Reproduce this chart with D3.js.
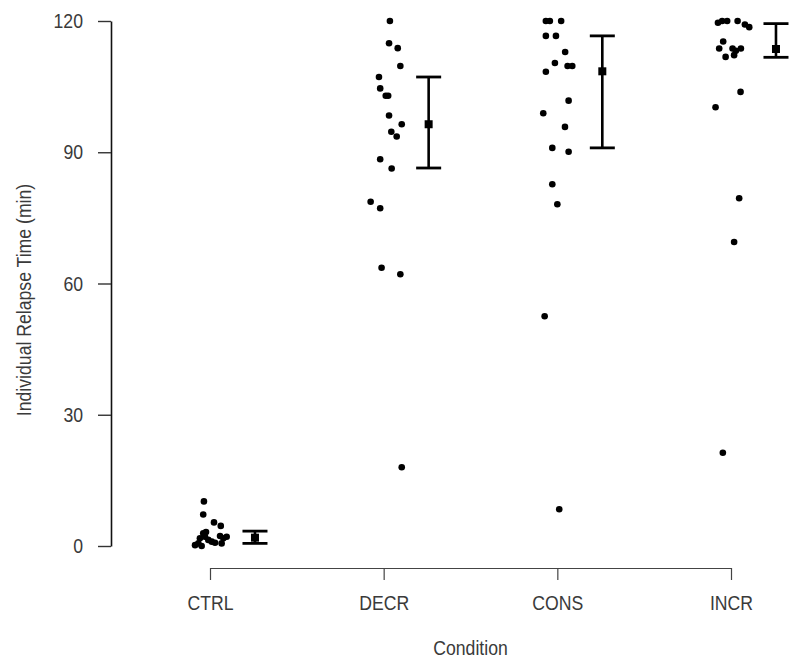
<!DOCTYPE html>
<html>
<head>
<meta charset="utf-8">
<script src="https://cdn.jsdelivr.net/npm/d3@7"></script>
<style>
  html, body { margin: 0; padding: 0; background: #fff; }
  svg { display: block; }
  text { font-family: "Liberation Sans", Arial, sans-serif; fill: #3a3a3a; }
</style>
</head>
<body>
<svg id="chart" width="800" height="665"></svg>
<script>
// ---- data ----
const categories = ["CTRL", "DECR", "CONS", "INCR"];
const yTicks = [0, 30, 60, 90, 120];

const ctrlValues = [10.2, 7.2, 5.4, 4.6, 3.2, 2.9, 2.1, 1.75, 1.4, 0.6, 0.2, 1.0, 0.75, 2.3, 1.75, 2.1, 0.6, 0.0];
const ctrlJitter = [-0.035, -0.039, 0.023, 0.062, -0.023, -0.039, -0.029, -0.058, -0.010, -0.067, -0.086, 0.010, 0.029, 0.058, 0.077, 0.096, 0.067, -0.048];

const decrValues = [120, 114.9, 113.8, 109.7, 107.2, 104.6, 102.9, 102.9, 98.4, 96.4, 94.7, 93.6, 88.4, 86.3, 78.7, 77.2, 63.6, 62.1, 18.0];
const decrJitter = [0.036, 0.031, 0.081, 0.096, -0.027, -0.020, 0.012, 0.026, 0.031, 0.104, 0.044, 0.075, -0.020, 0.046, -0.075, -0.020, -0.012, 0.096, 0.104];

const consValues = [120, 120, 120, 116.6, 116.6, 112.9, 110.4, 109.7, 109.7, 108.4, 101.8, 98.9, 95.8, 91.0, 90.1, 82.7, 78.1, 52.5, 8.4];
const consJitter = [-0.066, -0.043, 0.022, -0.066, -0.008, 0.045, -0.014, 0.059, 0.086, -0.066, 0.065, -0.081, 0.044, -0.029, 0.065, -0.029, 0.0, -0.073, 0.011];

const incrValues = [119.6, 120, 120, 120, 119.2, 118.6, 115.3, 113.7, 111.8, 113.7, 113.2, 113.7, 112.2, 103.8, 100.3, 79.5, 69.5, 21.3];
const incrJitter = [-0.075, -0.051, -0.022, 0.038, 0.080, 0.105, -0.045, -0.068, -0.031, 0.009, 0.028, 0.057, 0.018, 0.055, -0.089, 0.047, 0.018, -0.047];

const means = [1.9, 96.4, 108.5, 113.6];
const upper = [3.4, 107.2, 116.6, 119.4];
const lower = [0.6, 86.4, 91.0, 111.7];

const groupValues = [ctrlValues, decrValues, consValues, incrValues];
const groupJitter = [ctrlJitter, decrJitter, consJitter, incrJitter];

// ---- layout ----
const FS = "21px";
const NARROW = 0.84;   // the original uses a condensed face
const svg = d3.select("#chart");
const x = d3.scaleLinear().domain([0, 3]).range([210, 731]);
const y = d3.scaleLinear().domain([0, 120]).range([546, 21]);
const errOffset = 0.259;   // error bar placed to the right of each strip
const capHalf = 0.072;

function condense(sel) {
  sel.each(function () {
    const w = this.getComputedTextLength();
    d3.select(this).attr("textLength", w * NARROW).attr("lengthAdjust", "spacingAndGlyphs");
  });
}

// y axis
const yAxis = svg.append("g")
  .attr("transform", "translate(111,0)")
  .call(d3.axisLeft(y).tickValues(yTicks).tickSize(13).tickSizeOuter(0).tickPadding(15).tickFormat(d3.format("d")));
yAxis.select(".domain").attr("stroke", "#111").attr("stroke-width", 1.6);
yAxis.selectAll(".tick line").attr("stroke", "#333").attr("stroke-width", 1.4);
yAxis.selectAll(".tick text").style("font-size", FS).attr("fill", "#3a3a3a")
  .style("font-family", "Liberation Sans, Arial, sans-serif").call(condense);

// x axis
const xAxis = svg.append("g")
  .attr("transform", "translate(0,568)")
  .call(d3.axisBottom(x).tickValues([0, 1, 2, 3]).tickSize(12).tickSizeOuter(0).tickPadding(15)
    .tickFormat(i => categories[i]));
xAxis.select(".domain").attr("stroke", "#444").attr("stroke-width", 1.2);
xAxis.selectAll(".tick line").attr("stroke", "#444").attr("stroke-width", 1.2);
xAxis.selectAll(".tick text").style("font-size", FS).attr("fill", "#3a3a3a")
  .style("font-family", "Liberation Sans, Arial, sans-serif").call(condense);

// axis titles
svg.append("text")
  .attr("transform", "translate(23,300) rotate(-90)")
  .attr("text-anchor", "middle")
  .attr("dominant-baseline", "central")
  .style("font-size", FS)
  .text("Individual Relapse Time (min)").call(condense);

svg.append("text")
  .attr("x", x(1.5))
  .attr("y", 655)
  .attr("text-anchor", "middle")
  .style("font-size", FS)
  .text("Condition").call(condense);

// points
const pts = [];
groupValues.forEach((vals, g) => {
  vals.forEach((v, k) => pts.push({ g, v, j: groupJitter[g][k] }));
});
svg.append("g").selectAll("circle").data(pts).join("circle")
  .attr("cx", d => x(d.g + d.j))
  .attr("cy", d => y(d.v))
  .attr("r", 3.3)
  .attr("fill", "#000");

// error bars
const eb = svg.append("g").attr("stroke", "#000");
categories.forEach((c, i) => {
  const cx = i + errOffset;
  eb.append("line")
    .attr("x1", x(cx)).attr("x2", x(cx))
    .attr("y1", y(upper[i])).attr("y2", y(lower[i]))
    .attr("stroke-width", 2.6);
  [upper[i], lower[i]].forEach(v => {
    eb.append("line")
      .attr("x1", x(cx - capHalf)).attr("x2", x(cx + capHalf))
      .attr("y1", y(v)).attr("y2", y(v))
      .attr("stroke-width", 2.8);
  });
  svg.append("rect")
    .attr("x", x(cx) - 4).attr("y", y(means[i]) - 4)
    .attr("width", 8).attr("height", 8)
    .attr("fill", "#000");
});
</script>
</body>
</html>
